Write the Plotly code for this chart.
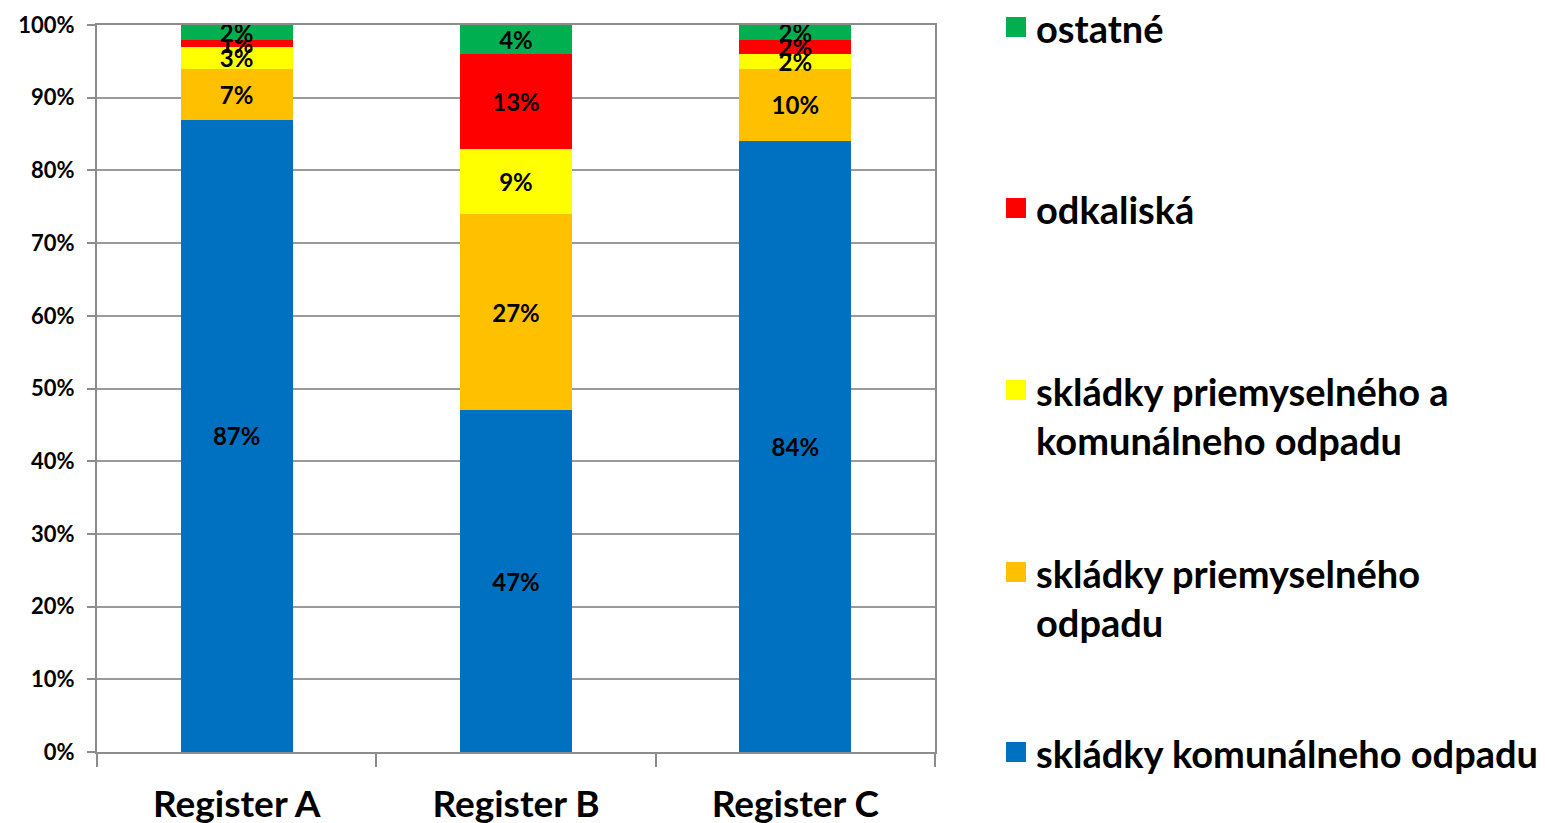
import plotly.graph_objects as go

# Data
registers = ["Register A", "Register B", "Register C"]
series_names = [
    "skládky komunálneho odpadu",
    "skládky priemyselného<br>odpadu",
    "skládky priemyselného a<br>komunálneho odpadu",
    "odkaliská",
    "ostatné",
]
komunalny = [87, 47, 84]
priemyselny = [7, 27, 10]
priem_a_kom = [3, 9, 2]
odkaliska = [1, 13, 2]
ostatne = [2, 4, 2]
y_ticks = [0, 10, 20, 30, 40, 50, 60, 70, 80, 90, 100]

colors = ["#0070C0", "#FFC000", "#FFFF00", "#FF0000", "#00B050"]
values = [komunalny, priemyselny, priem_a_kom, odkaliska, ostatne]
FONT = "Lato"

fig = go.Figure()
for name, vals, col in zip(series_names, values, colors):
    fig.add_trace(go.Bar(
        x=registers,
        y=vals,
        name=name,
        marker=dict(color=col, line=dict(width=0)),
        text=[f"{v}%" for v in vals],
        textposition="inside",
        insidetextanchor="middle",
        constraintext="none",
        textangle=0,
        textfont=dict(family=FONT, size=24, color="black", weight="bold"),
        showlegend=False,
    ))

# legend drawn as squares + labels on the right (pixel rows of first line centre)
legend_y = [752, 572, 390, 208, 27]
LEG_FS = 38
for name, col, py in zip(series_names, colors, legend_y):
    fig.add_shape(type="rect", xref="paper", yref="paper",
                  x0=(1006 - 97) / 838, x1=(1026 - 97) / 838,
                  y0=(752 - (py + 10)) / 727, y1=(752 - (py - 10)) / 727,
                  fillcolor=col, line=dict(width=0))
    fig.add_annotation(x=(1034 - 97) / 838, y=(752 - (py + 1 - 0.65 * LEG_FS)) / 727,
                       xref="paper", yref="paper", xanchor="left", yanchor="top",
                       align="left", text=name, showarrow=False,
                       font=dict(family=FONT, size=LEG_FS, color="black", weight="bold"))

# page body has an 8px margin, so margins are offset to keep the plot area in place
fig.update_layout(
    width=1545, height=823,
    margin=dict(l=89, r=618, t=17, b=79),
    plot_bgcolor="white", paper_bgcolor="white",
    barmode="stack",
    bargap=0.6,
    showlegend=False,
    xaxis=dict(
        showline=True, linecolor="#8c8c8c", linewidth=2, mirror=True,
        ticks="outside", tickson="boundaries", ticklen=13, tickcolor="#8c8c8c", tickwidth=2,
        tickfont=dict(family=FONT, size=37, color="black", weight="bold"),
        ticklabelstandoff=19,
        showgrid=False, automargin=False,
    ),
    yaxis=dict(
        range=[0, 100],
        tickvals=y_ticks,
        ticktext=[f"{t}%" for t in y_ticks],
        showline=True, linecolor="#8c8c8c", linewidth=2, mirror=True,
        ticks="outside", ticklen=8, tickcolor="#8c8c8c", tickwidth=2,
        gridcolor="#9a9a9a", gridwidth=2,
        tickfont=dict(family=FONT, size=22, color="black", weight="bold"),
        ticklabelstandoff=8,
        zeroline=False, automargin=False,
    ),
)

fig.write_html("out.html")
